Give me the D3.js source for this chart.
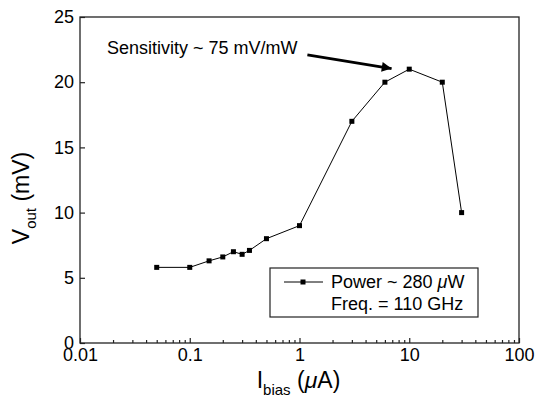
<!DOCTYPE html>
<html>
<head>
  <meta charset="UTF-8">
  <title>Vout vs Ibias</title>
  <script src="https://d3js.org/d3.v7.min.js"></script>
  <style>
    * { margin: 0; padding: 0; box-sizing: border-box; }
    body { background: #fff; font-family: "Liberation Sans", Arial, sans-serif; }
    svg text { fill: #000; }
  </style>
</head>
<body>
  <div id="chart"></div>
  <script>
    // data
    const ibias = [0.05, 0.1, 0.15, 0.2, 0.25, 0.3, 0.35, 0.5, 1, 3, 6, 10, 20, 30];
    const vout  = [5.8, 5.8, 6.3, 6.6, 7.0, 6.8, 7.1, 8.0, 9.0, 17, 20, 21, 20, 10];

    const xTicks = [0.01, 0.1, 1, 10, 100];
    const xTickLabels = ["0.01", "0.1", "1", "10", "100"];
    const yTicks = [0, 5, 10, 15, 20, 25];

    // annotation: text anchor and arrow (data coords)
    const noteText = "Sensitivity ~ 75 mV/mW";
    const notePos = [0.0176, 22.15];
    const arrowFrom = [1.18, 22.1];
    const arrowTo = [6.9, 21.05];

    const W = 537, H = 398;
    const margin = {top: 17, right: 18, bottom: 55, left: 80};
    const width = W - margin.left - margin.right,
          height = H - margin.top - margin.bottom;

    const svg = d3.select("#chart").append("svg")
      .attr("width", W).attr("height", H);

    const g = svg.append("g")
      .attr("transform", `translate(${margin.left},${margin.top})`);

    const x = d3.scaleLog().domain([0.01, 100]).range([0, width]);
    const y = d3.scaleLinear().domain([0, 25]).range([height, 0]);

    const data = ibias.map((d, i) => ({x: d, y: vout[i]}));

    // minor x ticks
    const minor = [];
    [0.01, 0.1, 1, 10].forEach(dec => { for (let k = 2; k <= 9; k++) minor.push(dec * k); });

    g.append("g")
      .attr("transform", `translate(0,${height})`)
      .call(d3.axisBottom(x).tickValues(minor).tickSize(-3).tickFormat(""))
      .call(a => a.select(".domain").remove())
      .selectAll("line").attr("stroke", "#222").attr("stroke-width", 1.2);

    const xAxis = g.append("g")
      .attr("transform", `translate(0,${height})`)
      .call(d3.axisBottom(x).tickValues(xTicks).tickSize(-5).tickPadding(5)
              .tickFormat((d, i) => xTickLabels[i]))
      .call(a => a.select(".domain").remove());
    xAxis.selectAll("line").attr("stroke", "#222").attr("stroke-width", 1.2);
    xAxis.selectAll("text")
      .style("font-family", "Liberation Sans, Arial, sans-serif")
      .style("font-size", "18px").attr("fill", "#000");

    const yAxis = g.append("g")
      .call(d3.axisLeft(y).tickValues(yTicks).tickSize(-5).tickPadding(6))
      .call(a => a.select(".domain").remove());
    yAxis.selectAll("line").attr("stroke", "#222").attr("stroke-width", 1.2);
    yAxis.selectAll("text")
      .style("font-family", "Liberation Sans, Arial, sans-serif")
      .style("font-size", "18px").attr("fill", "#000");

    // frame
    g.append("rect")
      .attr("width", width).attr("height", height)
      .attr("fill", "none").attr("stroke", "#222").attr("stroke-width", 1.3);

    // data line + markers
    g.append("path")
      .datum(data)
      .attr("fill", "none").attr("stroke", "#000").attr("stroke-width", 1)
      .attr("d", d3.line().x(d => x(d.x)).y(d => y(d.y)));

    g.selectAll(".pt").data(data).enter().append("rect")
      .attr("class", "pt")
      .attr("x", d => x(d.x) - 2.5).attr("y", d => y(d.y) - 2.5)
      .attr("width", 5).attr("height", 5).attr("fill", "#000");

    // annotation
    g.append("text")
      .attr("x", x(notePos[0])).attr("y", y(notePos[1]))
      .style("font-size", "18px")
      .text(noteText);

    svg.append("defs").append("marker")
      .attr("id", "ah").attr("viewBox", "0 0 10 10")
      .attr("refX", 10).attr("refY", 5)
      .attr("markerWidth", 4).attr("markerHeight", 3.5)
      .attr("markerUnits", "strokeWidth")
      .attr("orient", "auto")
      .append("path").attr("d", "M0,0 L10,5 L0,10 z").attr("fill", "#000");

    g.append("line")
      .attr("x1", x(arrowFrom[0])).attr("y1", y(arrowFrom[1]))
      .attr("x2", x(arrowTo[0])).attr("y2", y(arrowTo[1]))
      .attr("stroke", "#000").attr("stroke-width", 2.8)
      .attr("marker-end", "url(#ah)");

    // legend
    const lg = g.append("g").attr("transform", "translate(190,251)");
    lg.append("rect").attr("width", 208).attr("height", 49)
      .attr("fill", "#fff").attr("stroke", "#222").attr("stroke-width", 1.2);
    lg.append("line").attr("x1", 14).attr("x2", 53).attr("y1", 14).attr("y2", 14)
      .attr("stroke", "#000").attr("stroke-width", 1);
    lg.append("rect").attr("x", 30.5).attr("y", 11.5).attr("width", 5).attr("height", 5).attr("fill", "#000");
    const lt1 = lg.append("text").attr("x", 61).attr("y", 20).style("font-size", "18px");
    lt1.append("tspan").text("Power ~ 280 ");
    lt1.append("tspan").style("font-style", "italic").text("\u03bc");
    lt1.append("tspan").text("W");
    lg.append("text").attr("x", 61).attr("y", 42).style("font-size", "18px")
      .text("Freq. = 110 GHz");

    // axis titles
    const xt = svg.append("text")
      .attr("x", margin.left + width / 2 - 1).attr("y", 388)
      .attr("text-anchor", "middle").style("font-size", "23px");
    xt.append("tspan").text("I");
    xt.append("tspan").attr("dy", 7).style("font-size", "15px").text("bias");
    xt.append("tspan").attr("dy", -7).text(" (");
    xt.append("tspan").style("font-style", "italic").text("\u03bc");
    xt.append("tspan").text("A)");

    const yt = svg.append("text")
      .attr("transform", "translate(29,198) rotate(-90)")
      .attr("text-anchor", "middle").style("font-size", "23px");
    yt.append("tspan").text("V");
    yt.append("tspan").attr("dy", 7).style("font-size", "15px").text("out");
    yt.append("tspan").attr("dy", -7).text(" (mV)");
  </script>
</body>
</html>
